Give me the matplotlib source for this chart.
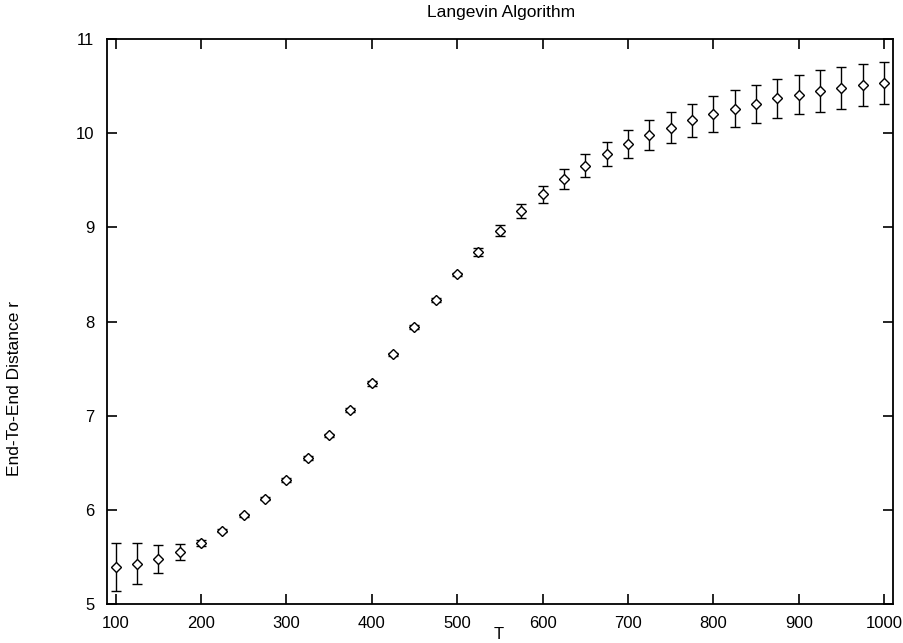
import matplotlib
matplotlib.use("Agg")
import matplotlib.pyplot as plt

plt.rcParams['font.family'] = ['Liberation Sans', 'DejaVu Sans']

T = [100, 125, 150, 175, 200, 225, 250, 275, 300, 325, 350, 375, 400, 425,
     450, 475, 500, 525, 550, 575, 600, 625, 650, 675, 700, 725, 750, 775,
     800, 825, 850, 875, 900, 925, 950, 975, 1000]
r = [5.39, 5.43, 5.48, 5.55, 5.65, 5.78, 5.94, 6.12, 6.32, 6.55, 6.79, 7.06,
     7.345, 7.65, 7.94, 8.23, 8.50, 8.74, 8.965, 9.17, 9.35, 9.51, 9.655,
     9.78, 9.885, 9.98, 10.06, 10.135, 10.20, 10.26, 10.31, 10.37, 10.41,
     10.45, 10.48, 10.51, 10.535]
err = [0.255, 0.215, 0.15, 0.085, 0.03, 0.02, 0.02, 0.02, 0.02, 0.02, 0.02,
       0.025, 0.025, 0.02, 0.02, 0.02, 0.02, 0.04, 0.06, 0.075, 0.092, 0.107,
       0.124, 0.13, 0.145, 0.155, 0.165, 0.175, 0.19, 0.195, 0.2, 0.205,
       0.21, 0.22, 0.22, 0.22, 0.225]

fig = plt.figure(figsize=(9.04, 6.43), dpi=100)
ax = fig.add_axes([107/904, 1-604/643, (892.7-107)/904, (604-39)/643])

ax.errorbar(T, r, yerr=err, fmt='D', color='black', mfc='white', mec='black',
            ms=5, mew=1.0, elinewidth=1.0, capsize=3.5, capthick=1.0)

ax.set_xlim(90, 1010)
ax.set_ylim(5, 11)
ax.set_xticks(range(100, 1001, 100))
ax.set_yticks(range(5, 12))
ax.tick_params(direction='in', length=7, width=1.2, top=True, right=True,
               labelsize=12, pad=9)
for s in ax.spines.values():
    s.set_linewidth(1.3)

fig.text(501/904, 1-12/643, "Langevin Algorithm", ha='center', va='center', fontsize=12.5)
fig.text(499/904, 0.002, "T", ha='center', va='bottom', fontsize=12)
fig.text(15/904, 1-388/643, "End-To-End Distance r", rotation=90,
         ha='center', va='center', fontsize=12.5)

fig.savefig("out.png", dpi=100)
